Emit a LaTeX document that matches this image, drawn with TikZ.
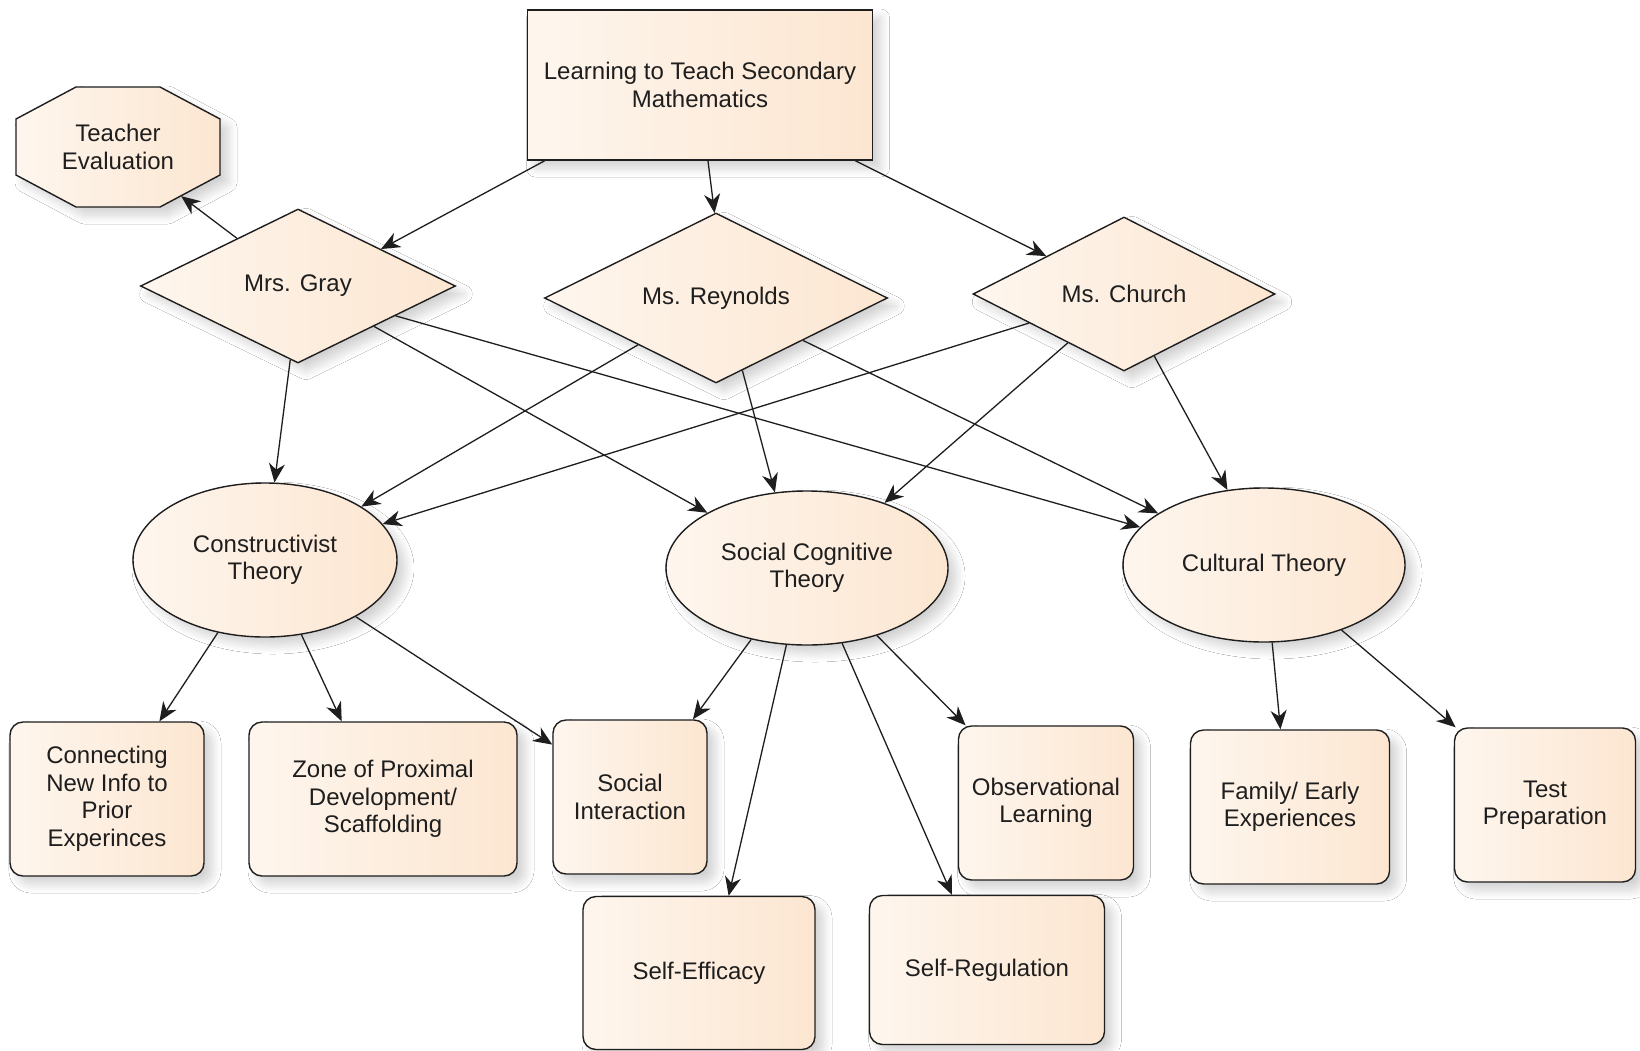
\documentclass[tikz,border=0pt]{standalone}
\usepackage{fontspec}
\setmainfont{Liberation Sans}
\usetikzlibrary{shapes.geometric,arrows.meta,calc,shadows.blur}
\definecolor{pkA}{HTML}{FEF6EE}
\definecolor{pkB}{HTML}{FCE6D1}
\definecolor{ink}{HTML}{1E1E1E}
\tikzset{
  txt/.style={text=ink, font=\fontsize{24}{27.5}\selectfont, align=center, inner sep=0pt},
  base/.style={txt, draw=ink, line width=1.4pt, left color=pkA, right color=pkB,
    blur shadow={shadow xshift=8pt, shadow yshift=-8pt, shadow blur radius=9pt, shadow blur steps=8, shadow opacity=18}},
  boxnode/.style={base, rectangle, rounded corners=13pt},
  topbox/.style={base, rectangle},
  dia/.style={base, diamond},
  ell/.style={base, ellipse},
  arr/.style={draw=ink, line width=1.3pt, -{Stealth[length=19pt,width=16pt,inset=6pt]}},
}
\begin{document}
\begin{tikzpicture}[x=1pt,y=-1pt]
\useasboundingbox (0,0) rectangle (1640,1050);
\fill[white] (0,0) rectangle (1640,1050);

% top box
\node[topbox, minimum width=345pt, minimum height=150pt] (top) at (700,85) {Learning to Teach Secondary\\Mathematics};

% octagon
\path[base] (76,87) -- (160,87) -- (220,119) -- (220,175) -- (160,207) -- (76,207) -- (16,175) -- (16,119) -- cycle;
\node[txt, minimum width=204pt, minimum height=120pt] (te) at (118,147) {Teacher\\Evaluation};

% diamonds
\node[dia, minimum width=315pt, minimum height=154pt] (gray) at (298,286) {Mrs. Gray};
\node[dia, minimum width=343pt, minimum height=153pt] (rey) at (716,298) {Ms. Reynolds};
\node[dia, minimum width=302pt, minimum height=154pt] (church) at (1124,294) {Ms. Church};

% ellipses
\node[ell, minimum width=264pt, minimum height=154pt] (cons) at (265,560) {Constructivist\\Theory};
\node[ell, minimum width=282pt, minimum height=154pt] (scog) at (807,568) {Social Cognitive\\Theory};
\node[ell, minimum width=282pt, minimum height=154pt] (cult) at (1264,565) {Cultural Theory};

% boxes
\node[boxnode, minimum width=194pt, minimum height=154pt] (conn) at (107,799) {Connecting\\New Info to\\Prior\\Experinces};
\node[boxnode, minimum width=268pt, minimum height=154pt] (zone) at (383,799) {Zone of Proximal\\Development/\\Scaffolding};
\node[boxnode, minimum width=154pt, minimum height=154pt] (sint) at (630,797) {Social\\Interaction};
\node[boxnode, minimum width=175pt, minimum height=154pt] (obs) at (1046,803) {Observational\\Learning};
\node[boxnode, minimum width=199pt, minimum height=154pt] (fam) at (1290,807) {Family/ Early\\Experiences};
\node[boxnode, minimum width=181pt, minimum height=154pt] (test) at (1545,805) {Test\\Preparation};
\node[boxnode, minimum width=232pt, minimum height=153pt] (seff) at (699,973) {Self-Efficacy};
\node[boxnode, minimum width=235pt, minimum height=149pt] (sreg) at (987,970) {Self-Regulation};

% connectors
\draw[arr] (top.206.7) -- (gray.24.9);
\draw[arr] (top.276.8) -- (rey.91.5);
\draw[arr] (top.334.2) -- (church.154);
\draw[arr] (gray.142.6) -- ($(te.south east)+(-39,-11)$);
\draw[arr] (gray.264.7) -- (cons.83.1);
\draw[arr] (gray.332.6) -- (scog.151.4);
\draw[arr] (gray.343.1) -- (cult.163.6);
\draw[arr] (rey.211) -- (cons.29.8);
\draw[arr] (rey.290.3) -- (scog.113.2);
\draw[arr] (rey.334.5) -- (cult.154.7);
\draw[arr] (church.197.7) -- (cons.17.3);
\draw[arr] (church.221.8) -- (scog.40.6);
\draw[arr] (church.296.6) -- (cult.116.3);
\draw[arr] (cons.237.2) -- (conn.56);
\draw[arr] (cons.296.9) -- (zone.118);
\draw[arr] (cons.328.2) -- (sint.146.5);
\draw[arr] (scog.232.5) -- (sint.51.7);
\draw[arr] (scog.255.4) -- (seff.69.8);
\draw[arr] (scog.295.1) -- (sreg.115);
\draw[arr] (scog.316.3) -- (obs.136.1);
\draw[arr] (cult.276.5) -- (fam.97.4);
\draw[arr] (cult.320.1) -- (test.139.2);
\end{tikzpicture}
\end{document}
